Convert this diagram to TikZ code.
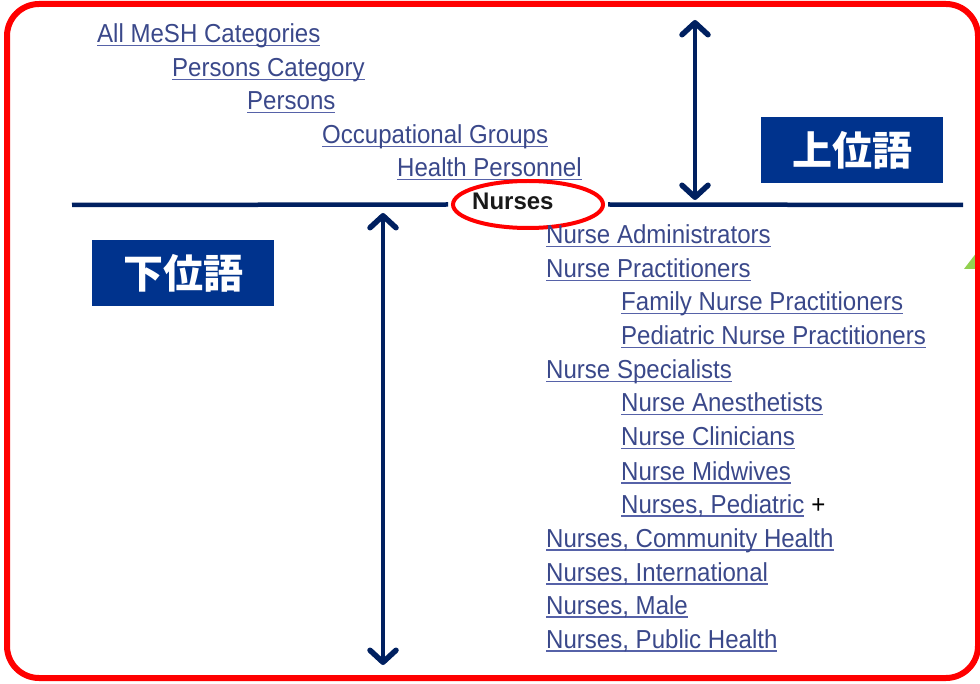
\documentclass[tikz,border=0pt]{standalone}
\usepackage{fontspec}
\usetikzlibrary{arrows.meta,shapes.geometric}
\newfontfamily\linkfont[FakeStretch=0.925]{Liberation Sans}
\newfontfamily\plainsans{Liberation Sans}
\newfontfamily\cjk{Noto Sans CJK JP}
\definecolor{linkc}{RGB}{58,72,138}
\definecolor{linku}{RGB}{86,98,168}
\definecolor{navy}{RGB}{0,32,96}
\definecolor{boxblue}{RGB}{0,51,141}
\definecolor{framered}{RGB}{255,0,0}
\definecolor{grn}{RGB}{146,208,80}
\newsavebox\lkbox
\newcommand\lk[1]{\sbox\lkbox{#1}\rlap{\textcolor{linku}{\rule[-3.5pt]{\wd\lkbox}{1.8pt}}}\usebox\lkbox}
\begin{document}
\begin{tikzpicture}[x=1pt,y=-1pt,
  lnk/.style={font=\linkfont\fontsize{26}{30}\selectfont, text=linkc, inner sep=0pt, anchor=base west},
  tagbox/.style={fill=boxblue, text=white, inner sep=0pt, minimum width=182pt, minimum height=66pt,
    font=\cjk\bfseries\fontsize{40}{48}\selectfont},
  navyline/.style={draw=navy, line width=4.5pt},
  dblarrow/.style={navyline, {Straight Barb[length=12pt,width=26pt,line width=5.5pt,round]}-{Straight Barb[length=12pt,width=26pt,line width=5.5pt,round]}}
]
\useasboundingbox (0,0) rectangle (980,684);
% green tip behind the frame
\fill[grn] (964,269) -- (977,252) -- (977,269) -- cycle;
% frame
\draw[framered, line width=6pt, rounded corners=32pt] (7,4) rectangle (978,678);

% broader terms
\node[lnk] (t0) at (97,43) {\lk{All MeSH Categories}};
\node[lnk] (t1) at (172,77) {\lk{Persons Category}};
\node[lnk] (t2) at (247,110) {\lk{Persons}};
\node[lnk] (t3) at (322,144) {\lk{Occupational Groups}};
\node[lnk] (t4) at (397,177) {\lk{Health Personnel}};
% current term
\node[inner sep=0pt, anchor=base west, font=\plainsans\bfseries\fontsize{24}{28}\selectfont, text=black!90] (nurses) at (472,210) {Nurses};
\node[ellipse, draw=framered, line width=4pt, minimum width=150pt, minimum height=47pt, inner sep=0pt, outer sep=5pt] (ring) at (528,204.5) {};
% narrower terms
\node[lnk] (c1) at (546,244) {\lk{Nurse Administrators}};
\node[lnk] (c2) at (546,278) {\lk{Nurse Practitioners}};
\node[lnk] (g1) at (621,311) {\lk{Family Nurse Practitioners}};
\node[lnk] (g2) at (621,345) {\lk{Pediatric Nurse Practitioners}};
\node[lnk] (c3) at (546,379) {\lk{Nurse Specialists}};
\node[lnk] (g3) at (621,412) {\lk{Nurse Anesthetists}};
\node[lnk] (g4) at (621,446) {\lk{Nurse Clinicians}};
\node[lnk] (g5) at (621,480) {\lk{Nurse Midwives}};
\node[lnk] (g6) at (621,513) {\lk{Nurses, Pediatric}\hspace{7pt}\textcolor{black}{+}};
\node[lnk] (c4) at (546,547) {\lk{Nurses, Community Health}};
\node[lnk] (c5) at (546,581) {\lk{Nurses, International}};
\node[lnk] (c6) at (546,614) {\lk{Nurses, Male}};
\node[lnk] (c7) at (546,648) {\lk{Nurses, Public Health}};

% dividing line
\coordinate (hl) at (72,205);
\coordinate (hr) at (963,205);
\draw[navyline] (hl) -- (ring.west);
\draw[navyline] (ring.east) -- (hr);

% arrows
\coordinate (uptop) at (695,20);
\coordinate (upbot) at (695,200);
\draw[dblarrow] (uptop) -- (upbot);
\coordinate (dntop) at (383,213);
\coordinate (dnbot) at (383,665);
\draw[dblarrow] (dntop) -- (dnbot);

% labels
\node[tagbox] (upper) at (852,150) {上位語};
\node[tagbox] (lower) at (183,273) {下位語};
\end{tikzpicture}
\end{document}
